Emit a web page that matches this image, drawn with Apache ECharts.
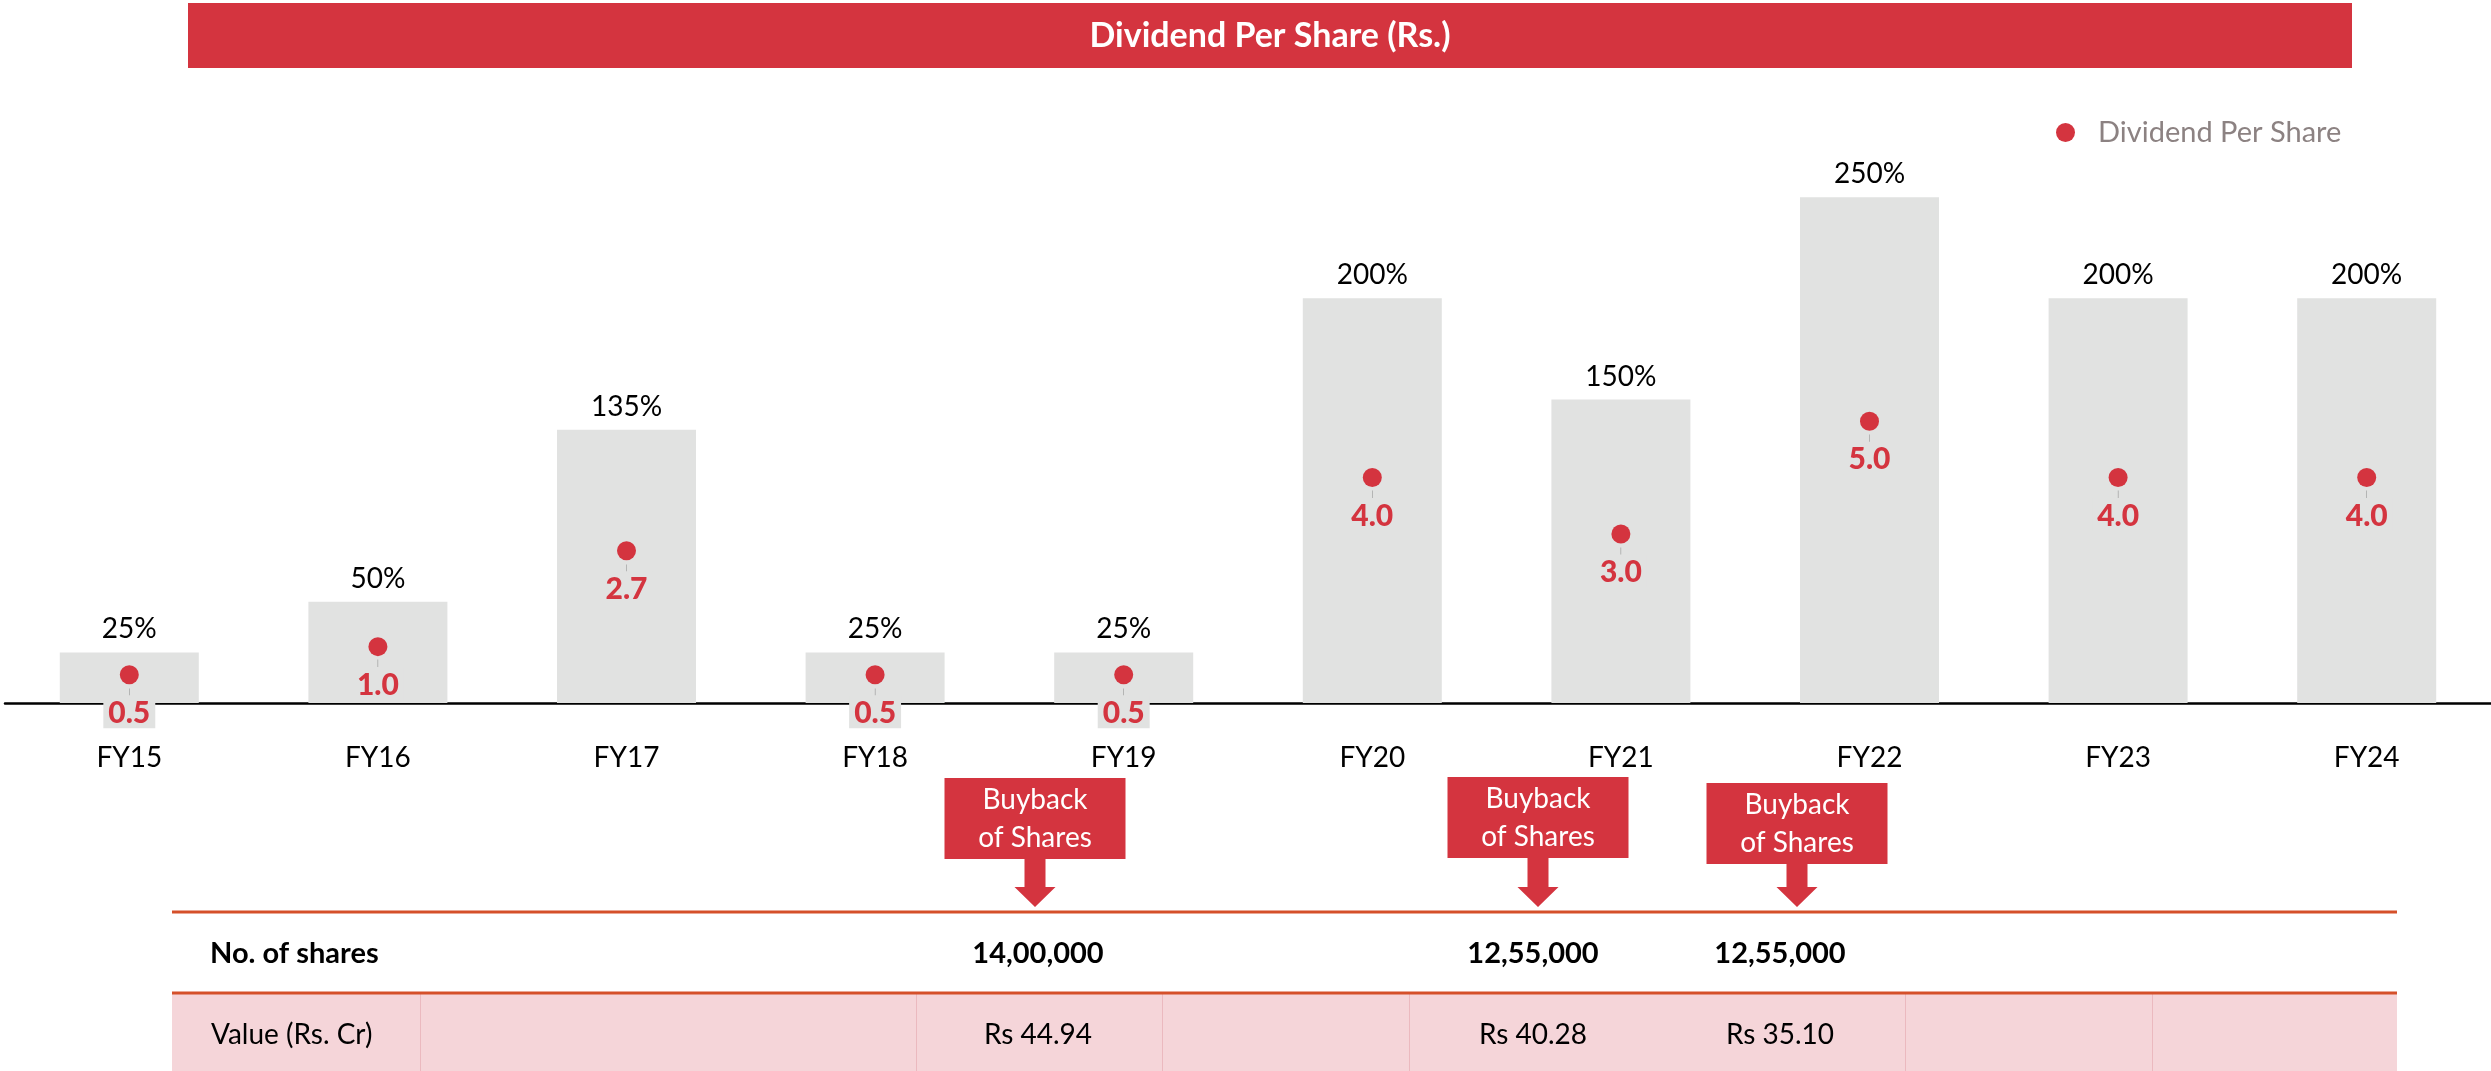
<!DOCTYPE html>
<html>
<head>
<meta charset="utf-8">
<title>Dividend Per Share (Rs.)</title>
<script src="https://cdn.jsdelivr.net/npm/echarts@6/dist/echarts.min.js"></script>
<style>
  html, body { margin: 0; padding: 0; background: #ffffff; }
  #chart { width: 2491px; height: 1071px; }
</style>
</head>
<body>
<div id="chart"></div>
<script>
// ---- data ----
const years = ['FY15', 'FY16', 'FY17', 'FY18', 'FY19', 'FY20', 'FY21', 'FY22', 'FY23', 'FY24'];
const dividendPct = [25, 50, 135, 25, 25, 200, 150, 250, 200, 200];
const dividendPerShare = [0.5, 1.0, 2.7, 0.5, 0.5, 4.0, 3.0, 5.0, 4.0, 4.0];

const buybackShares = ['14,00,000', '12,55,000', '12,55,000'];
const buybackValue = ['Rs 44.94', 'Rs 40.28', 'Rs 35.10'];
const tableRowLabels = ['No. of shares', 'Value (Rs. Cr)'];
const calloutText = 'Buyback\nof Shares';
const titleText = 'Dividend Per Share (Rs.)';

// ---- layout ----
const FONT = 'Lato, "Open Sans", sans-serif';
const RED = '#d4343f';
const BAR = '#e1e2e1';
const ORANGE = '#d5502a';
const PINK = '#f5d5d9';

const calloutX = [1035, 1538, 1797];
const calloutTop = [778, 777, 783];
const tableColX = [1038, 1533, 1780];
const tableLeft = 172, tableRight = 2397;
const tableLine1 = 912, tableLine2 = 993;
const row1Y = 954, row2Y = 1035;
const cellDividers = [420, 916, 1162, 1409, 1905, 2152];

const graphics = [];

// title banner
graphics.push({
  type: 'rect', shape: { x: 188, y: 3, width: 2164, height: 65 },
  style: { fill: RED }, silent: true
});
graphics.push({
  type: 'text', x: 1270, y: 36,
  style: { text: titleText, fill: '#ffffff', font: 'bold 34px ' + FONT, align: 'center', verticalAlign: 'middle' },
  silent: true
});

// buyback callouts (box with a down arrow)
calloutX.forEach(function (c, i) {
  const t = calloutTop[i], b = t + 81, hs = 887, tip = 907;
  graphics.push({
    type: 'polygon',
    shape: { points: [
      [c - 90.5, t], [c + 90.5, t], [c + 90.5, b], [c + 10.5, b], [c + 10.5, hs],
      [c + 20.5, hs], [c, tip], [c - 20.5, hs], [c - 10.5, hs], [c - 10.5, b], [c - 90.5, b]
    ] },
    style: { fill: RED }, silent: true
  });
  graphics.push({
    type: 'text', x: c, y: t + 41,
    style: { text: calloutText, fill: '#ffffff', font: '28px ' + FONT, align: 'center', verticalAlign: 'middle', lineHeight: 38 },
    silent: true
  });
});

// buyback table
graphics.push({
  type: 'rect', shape: { x: tableLeft, y: tableLine2, width: tableRight - tableLeft, height: 1071 - tableLine2 },
  style: { fill: PINK }, silent: true
});
cellDividers.forEach(function (x) {
  graphics.push({
    type: 'line', shape: { x1: x + 0.5, y1: tableLine2, x2: x + 0.5, y2: 1071 },
    style: { stroke: '#ebb9bf', lineWidth: 1 }, silent: true
  });
});
[tableLine1, tableLine2].forEach(function (y) {
  graphics.push({
    type: 'line', shape: { x1: tableLeft, y1: y, x2: tableRight, y2: y },
    style: { stroke: ORANGE, lineWidth: 3 }, silent: true
  });
});
graphics.push({
  type: 'text', x: 210, y: row1Y,
  style: { text: tableRowLabels[0], fill: '#000000', font: 'bold 29px ' + FONT, align: 'left', verticalAlign: 'middle' },
  silent: true
});
graphics.push({
  type: 'text', x: 211, y: row2Y,
  style: { text: tableRowLabels[1], fill: '#000000', font: '28px ' + FONT, align: 'left', verticalAlign: 'middle' },
  silent: true
});
tableColX.forEach(function (x, i) {
  graphics.push({
    type: 'text', x: x, y: row1Y,
    style: { text: buybackShares[i], fill: '#000000', font: 'bold 29px ' + FONT, align: 'center', verticalAlign: 'middle' },
    silent: true
  });
  graphics.push({
    type: 'text', x: x, y: row2Y,
    style: { text: buybackValue[i], fill: '#000000', font: '28px ' + FONT, align: 'center', verticalAlign: 'middle' },
    silent: true
  });
});

const chart = echarts.init(document.getElementById('chart'), null, { renderer: 'canvas' });

chart.setOption({
  backgroundColor: '#ffffff',
  animation: false,
  textStyle: { fontFamily: FONT },
  legend: {
    data: ['Dividend Per Share'],
    left: 2051, top: 113,
    icon: 'circle', itemWidth: 19, itemHeight: 19,
    textStyle: { fontSize: 29, color: '#8c8282', fontFamily: FONT, padding: [0, 0, 0, 18] }
  },
  grid: { left: 5, width: 2490, top: 96, height: 607, containLabel: false },
  xAxis: {
    type: 'category',
    data: years,
    axisLine: { show: true, lineStyle: { color: '#000000', width: 2.5 } },
    axisTick: { show: false },
    axisLabel: { fontSize: 28, color: '#000000', margin: 41, fontFamily: FONT },
    splitLine: { show: false }
  },
  yAxis: [
    { type: 'value', min: 0, max: 300, show: false },
    { type: 'value', min: 0, max: 10.77, show: false }
  ],
  series: [
    {
      name: 'Dividend %',
      type: 'bar',
      yAxisIndex: 0,
      data: dividendPct,
      barWidth: 139,
      itemStyle: { color: BAR },
      label: {
        show: true, position: 'top', distance: 9,
        formatter: '{c}%', fontSize: 28, color: '#000000', fontFamily: FONT
      },
      z: 1
    },
    {
      name: 'Dividend Per Share',
      type: 'scatter',
      yAxisIndex: 1,
      data: dividendPerShare,
      symbol: 'circle',
      symbolSize: 19,
      itemStyle: { color: RED, opacity: 1 },
      label: {
        show: true, position: 'bottom', distance: 3,
        formatter: function (p) { return '{t||}\n{v|' + p.value.toFixed(1) + '}'; },
        rich: {
          t: { fontSize: 7, lineHeight: 10, color: '#8a8a8a', align: 'center' },
          v: { fontSize: 30, fontWeight: 900, color: RED, lineHeight: 29, backgroundColor: BAR, padding: [3, 5, 0, 5], align: 'center', fontFamily: FONT }
        }
      },
      z: 3
    }
  ],
  graphic: graphics
});
</script>
</body>
</html>
